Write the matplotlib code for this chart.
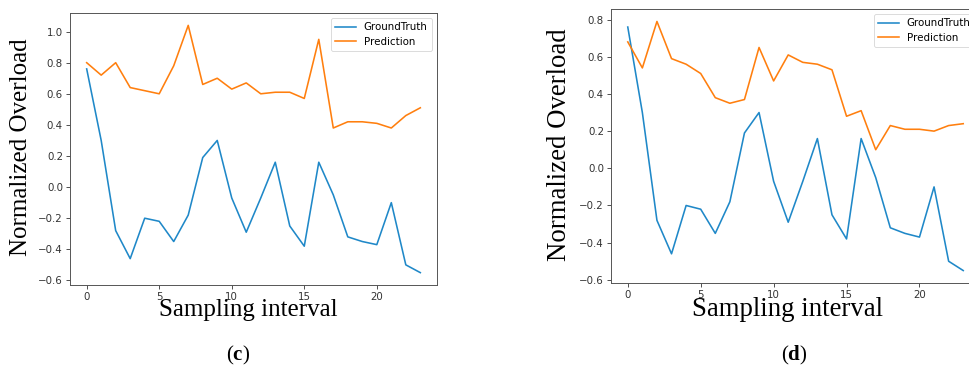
import matplotlib
matplotlib.use("Agg")
import matplotlib.pyplot as plt

# Sampling intervals and normalized overload series
steps = list(range(24))
ground_truth = [0.76, 0.30, -0.28, -0.46, -0.20, -0.22, -0.35, -0.18, 0.19, 0.30,
                -0.07, -0.29, -0.07, 0.16, -0.25, -0.38, 0.16, -0.05, -0.32, -0.35,
                -0.37, -0.10, -0.50, -0.55]
prediction_c = [0.80, 0.72, 0.80, 0.64, 0.62, 0.60, 0.78, 1.04, 0.66, 0.70,
                0.63, 0.67, 0.60, 0.61, 0.61, 0.57, 0.95, 0.38, 0.42, 0.42,
                0.41, 0.38, 0.46, 0.51]
prediction_d = [0.68, 0.54, 0.79, 0.59, 0.56, 0.51, 0.38, 0.35, 0.37, 0.65,
                0.47, 0.61, 0.57, 0.56, 0.53, 0.28, 0.31, 0.10, 0.23, 0.21,
                0.21, 0.20, 0.23, 0.24]
panel_labels = ["c", "d"]
series_names = ["GroundTruth", "Prediction"]

plt.rcParams["mathtext.fontset"] = "custom"
plt.rcParams["mathtext.rm"] = "Liberation Serif"
plt.rcParams["mathtext.bf"] = "Liberation Serif:bold"

W, H = 970, 372
fig = plt.figure(figsize=(W / 100, H / 100), dpi=100)

BLUE = "#1f88c8"
ORANGE = "#ff7f0e"


def px_axes(left, top, right, bottom):
    return fig.add_axes([left / W, 1 - bottom / H, (right - left) / W, (bottom - top) / H])


def draw_panel(ax, pred):
    ax.plot(steps, ground_truth, color=BLUE, lw=1.15, label=series_names[0])
    ax.plot(steps, pred, color=ORANGE, lw=1.15, label=series_names[1])
    for s in ax.spines.values():
        s.set_color("#555555")
        s.set_linewidth(0.7)
    ax.tick_params(labelsize=7.4, colors="#333333", width=0.6, length=2.6, pad=2.5)
    leg = ax.legend(loc="upper right", fontsize=7.4, frameon=True, borderpad=0.4,
                    handlelength=2.0, labelspacing=0.45)
    leg.get_frame().set_linewidth(0.6)


ax_c = px_axes(70, 13, 437, 285)
draw_panel(ax_c, prediction_c)
ax_d = px_axes(611, 9, 980, 283)
draw_panel(ax_d, prediction_d)

serif = "Liberation Serif"
fig.text(21 / W, 1 - 147 / H, "Normalized Overload", rotation=90, ha="center",
         va="center", fontsize=18, family=serif)
fig.text(560 / W, 1 - 145 / H, "Normalized Overload", rotation=90, ha="center",
         va="center", fontsize=19.3, family=serif)
fig.text(248 / W, 1 - 316 / H, "Sampling interval", ha="center", va="baseline",
         fontsize=18, family=serif)
fig.text(788 / W, 1 - 316 / H, "Sampling interval", ha="center", va="baseline",
         fontsize=19.3, family=serif)
fig.text(238 / W, 1 - 355 / H, r"($\mathbf{%s}$)" % panel_labels[0], ha="center",
         va="center", fontsize=15, family=serif)
fig.text(794 / W, 1 - 355 / H, r"($\mathbf{%s}$)" % panel_labels[1], ha="center",
         va="center", fontsize=15, family=serif)

fig.savefig("out.png", dpi=100)
